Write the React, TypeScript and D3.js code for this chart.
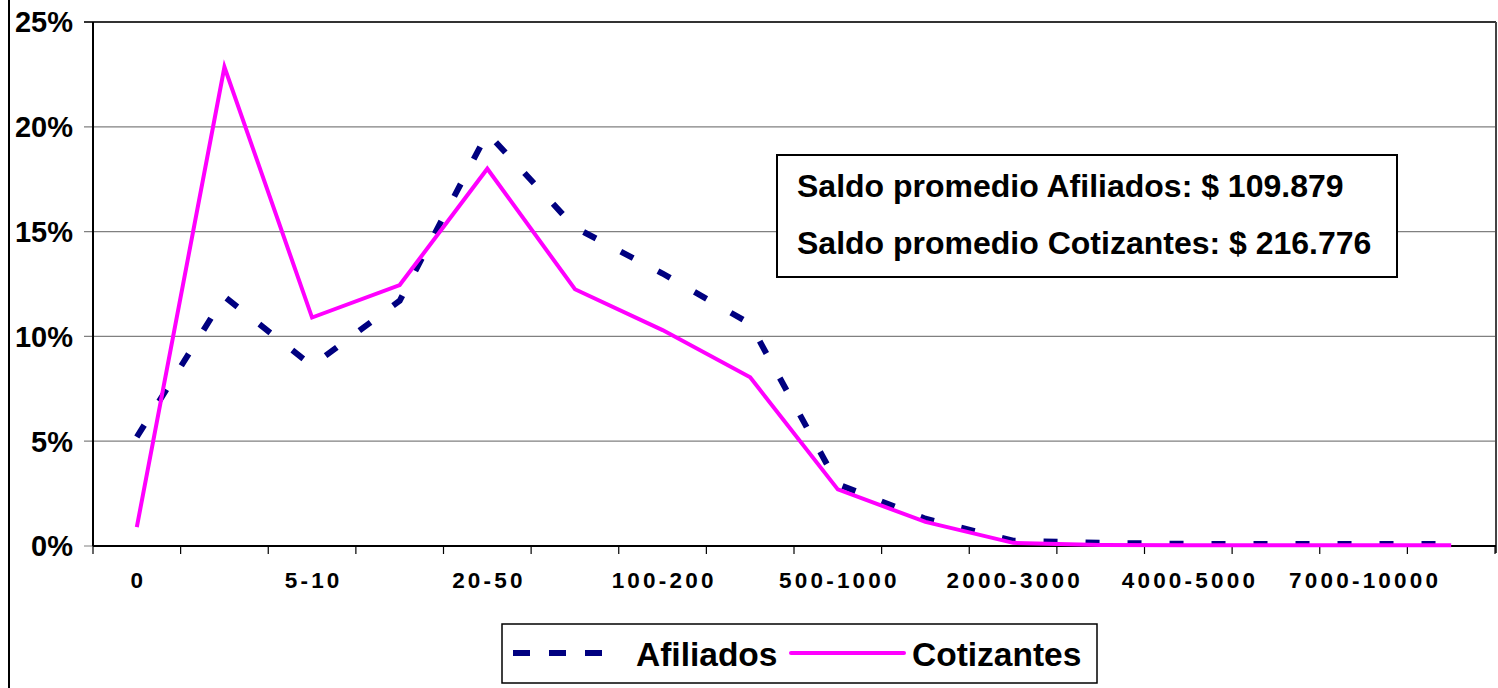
import React from "react";
import * as d3 from "d3";

const categories = [
  "0", "1-5", "5-10", "10-20", "20-50", "50-100", "100-200", "200-500",
  "500-1000", "1000-2000", "2000-3000", "3000-4000", "4000-5000",
  "5000-7000", "7000-10000", "10000+",
];
const afiliados = [5.2, 11.9, 8.6, 11.7, 19.7, 15.2, 13.0, 10.6, 2.95, 1.3, 0.25, 0.15, 0.1, 0.1, 0.1, 0.1];
const cotizantes = [0.9, 22.85, 10.9, 12.45, 18.0, 12.25, 10.3, 8.05, 2.7, 1.15, 0.15, 0.05, 0.03, 0.03, 0.03, 0.03];
const yTicks = [0, 5, 10, 15, 20, 25];
const seriesNames = ["Afiliados", "Cotizantes"];
const boxLines = ["Saldo promedio Afiliados: $ 109.879", "Saldo promedio Cotizantes: $ 216.776"];

const FONT = "'Liberation Sans', Arial, Helvetica, sans-serif";

export default function App() {
  const W = 1498, H = 688;
  const left = 93, right = 1495, top = 22, bottom = 546;
  const x = d3.scalePoint<string>().domain(categories).range([left, right]).padding(0.5);
  const y = d3.scaleLinear().domain([0, 25]).range([bottom, top]);
  const step = x.step();
  const line = d3.line<number>().x((_, i) => x(categories[i])!).y((v) => y(v));
  const ls = 3.2;

  return (
    <svg width={W} height={H} style={{ position: "absolute", left: 0, top: 0, background: "#fff" }} fontFamily={FONT}>
      <rect x={0} y={0} width={W} height={H} fill="#fff" />
      {/* outer frame left edge */}
      <line x1={9} y1={0} x2={9} y2={H} stroke="#000" strokeWidth={2} />
      {/* gridlines */}
      {yTicks.map((t) => (
        <g key={t}>
          <line x1={84} x2={right + 1} y1={y(t)} y2={y(t)} stroke={t === 25 ? "#333" : "#808080"} strokeWidth={t === 25 ? 2 : 1.2} />
          <text x={73} y={y(t)} dy="0.36em" textAnchor="end" fontSize={29} fontWeight="bold" fill="#000">{t}%</text>
        </g>
      ))}
      {/* right border */}
      <line x1={right + 1} x2={right + 1} y1={top} y2={bottom + 7} stroke="#444" strokeWidth={2} />
      {/* axes */}
      <line x1={left} x2={left} y1={top} y2={bottom} stroke="#000" strokeWidth={2} />
      <line x1={left} x2={right + 1} y1={bottom} y2={bottom} stroke="#000" strokeWidth={2} />
      {d3.range(categories.length + 1).map((i) => (
        <line key={i} x1={left + i * step} x2={left + i * step} y1={bottom} y2={bottom + 8} stroke="#000" strokeWidth={1.2} />
      ))}
      {categories.map((c, i) =>
        i % 2 === 0 ? (
          <text key={c} x={x(c)! + ls / 2} y={588} textAnchor="middle" fontSize={22.5} fontWeight="bold" letterSpacing={ls} fill="#000">{c}</text>
        ) : null
      )}
      {/* series */}
      <path d={line(afiliados)!} fill="none" stroke="#000080" strokeWidth={6} strokeDasharray="14,28" />
      <path d={line(cotizantes)!} fill="none" stroke="#FF00FF" strokeWidth={4} strokeLinejoin="miter" />
      {/* text box */}
      <rect x={777} y={155} width={620} height={122} fill="#fff" stroke="#000" strokeWidth={2} />
      {boxLines.map((t, i) => (
        <text key={t} x={797} y={197 + i * 57} fontSize={32} fontWeight="bold" fill="#000">{t}</text>
      ))}
      {/* legend */}
      <rect x={502} y={624} width={595} height={59} fill="#fff" stroke="#000" strokeWidth={1.5} />
      <line x1={513} x2={603} y1={653} y2={653} stroke="#000080" strokeWidth={6} strokeDasharray="17,19" />
      <text x={636} y={666} fontSize={33.5} fontWeight="bold" fill="#000">{seriesNames[0]}</text>
      <line x1={791} x2={904} y1={653} y2={653} stroke="#FF00FF" strokeWidth={4} strokeLinecap="round" />
      <text x={912} y={666} fontSize={33.5} fontWeight="bold" fill="#000">{seriesNames[1]}</text>
    </svg>
  );
}
